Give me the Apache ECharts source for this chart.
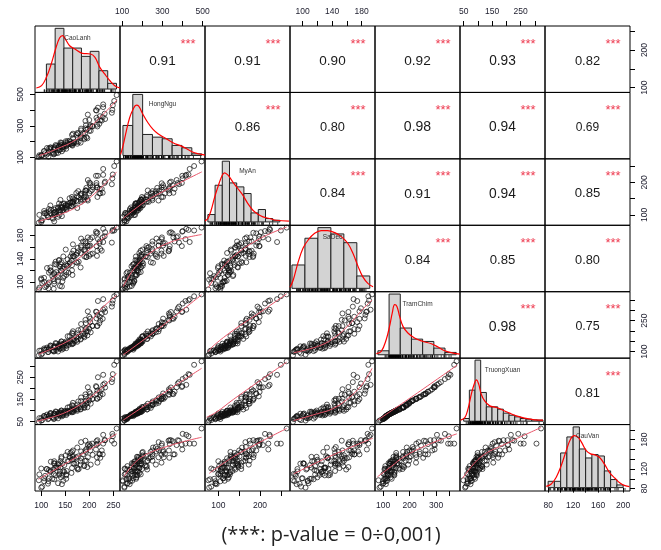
<!DOCTYPE html>
<html>
<head>
<meta charset="utf-8">
<script src="https://cdn.jsdelivr.net/npm/echarts@6/dist/echarts.min.js"></script>
<style>
html, body { margin: 0; padding: 0; background: #fff; }
#chart { width: 661px; height: 550px; }
</style>
</head>
<body>
<div id="chart"></div>
<script>
const caoLanh = [95,100,115,102,126,100,114,96,127,111, 135,108,125,106,131,143,116,123,139,106, 127,138,116,135,112,146,127,144,119,135, 152,127,119,144,141,128,152,137,120,153, 148,137,164,131,146,157,130,165,140,155, 148,167,142,163,140,175,160,152,173,142, 169,164,151,182,161,178,167,190,159,176, 155,182,189,166,173,196,164,183,194,175, 191,166,203,187,200,177,197,194,183,217, 192,207,183,216,193,206,223,202,192,221, 202,217,228,200,215,226,197,222,233,215, 232,214,247,229,218,248,229,249,252,257];
const hongNgu = [103,112,104,112,118,113,124,113,122,116, 128,126,126,138,127,138,139,132,148,140, 149,147,156,145,159,151,155,164,152,161, 154,165,163,161,171,159,170,167,161,176, 167,174,178,172,169,183,178,174,182,189, 179,188,179,187,194,186,183,193,197,192, 196,187,202,193,200,199,193,215,205,225, 203,224,223,219,243,221,242,233,228,254, 251,250,268,251,268,252,281,275,271,296, 284,296,282,307,304,298,335,297,331,313, 304,336,355,337,351,333,371,361,343,397, 377,399,383,419,415,401,436,430,458,495];
const myAn = [76,78,93,83,105,83,93,100,80,106, 94,105,88,112,102,96,118,90,109,105, 116,100,111,123,99,115,107,123,105,120, 116,100,129,114,125,108,123,135,115,119, 135,114,126,110,134,126,121,136,115,134, 120,141,131,127,146,121,137,128,144,121, 147,139,130,147,139,155,131,147,151,141, 129,160,155,140,167,148,155,140,175,157, 165,150,173,145,166,173,144,183,164,155, 174,185,165,184,155,177,166,197,175,166, 191,184,168,199,191,180,207,180,202,198, 198,220,194,223,220,212,241,224,250,264];
const saDec = [87,104,89,98,88,106,96,90,115,93, 108,91,105,100,117,92,116,110,93,107, 101,127,99,112,124,107,97,123,119,102, 130,113,125,101,120,131,112,138,120,128, 110,137,120,130,144,116,135,112,131,139, 126,145,119,137,126,150,134,117,147,134, 144,129,156,125,144,135,154,144,132,159, 128,150,155,144,134,162,149,160,143,133, 156,165,148,170,145,153,163,143,175,154, 170,149,163,145,167,177,157,174,153,167, 163,185,177,162,184,154,177,170,186,162, 179,187,168,192,174,188,169,190,189,194];
const tramChim = [82,86,99,91,101,106,98,105,103,111, 101,110,105,116,108,110,116,107,115,110, 120,115,110,121,120,115,126,119,122,127, 117,127,130,124,128,123,132,136,129,128, 140,128,136,139,134,133,142,139,133,146, 142,140,150,143,140,148,150,141,154,149, 151,160,149,159,149,173,159,170,175,162, 175,162,176,187,174,179,190,177,198,189, 185,199,194,187,211,204,198,214,208,224, 209,224,234,225,238,225,251,243,254,238, 260,278,259,269,261,285,295,269,292,292, 310,294,318,303,345,333,354,348,368,377];
const truongXuan = [49,55,64,57,62,66,61,66,64,71, 65,71,68,76,71,74,78,71,77,75, 82,78,75,83,82,79,86,81,84,87, 80,87,89,84,87,83,90,92,88,86, 95,86,92,94,90,90,96,95,89,98, 96,94,100,96,93,99,101,94,104,100, 103,108,99,107,99,116,105,112,116,105, 114,105,115,122,112,115,124,115,131,127, 124,135,131,127,146,141,135,146,143,154, 142,153,159,153,162,152,171,164,173,160, 177,190,174,184,176,196,205,185,204,206, 222,210,228,216,250,242,261,264,306,322];
const cauVan = [97,82,95,84,110,121,90,109,99,120, 91,106,119,101,126,89,118,100,115,95, 132,110,101,123,120,96,131,108,116,131, 107,136,114,131,103,122,100,129,135,116, 128,108,139,123,116,136,107,145,123,136, 114,131,145,112,136,122,143,109,132,142, 131,122,148,129,153,120,141,127,146,119, 155,136,126,147,144,124,155,142,137,164, 137,158,129,150,165,146,144,161,156,133, 158,149,175,144,155,172,143,168,178,151, 158,179,150,171,177,158,169,150,179,170, 179,160,178,190,172,192,172,187,172,203];

const names = ['CaoLanh', 'HongNgu', 'MyAn', 'SaDec', 'TramChim', 'TruongXuan', 'CauVan'];
const cols = [caoLanh, hongNgu, myAn, saDec, tramChim, truongXuan, cauVan];

// scatter axis limits per variable
const axisMin = [87, 90, 68, 83, 69, 37, 75];
const axisMax = [264, 512, 272, 198, 390, 336, 211];

// ticks per variable
const tickCaoLanh = [100, 150, 200, 250];
const tickHongNgu = [100, 200, 300, 400, 500];
const tickMyAn = [100, 150, 200, 250];
const tickSaDec = [100, 120, 140, 160, 180];
const tickTramChim = [100, 150, 200, 250, 300, 350];
const tickTruongXuan = [50, 100, 150, 200, 250, 300];
const tickCauVan = [80, 100, 120, 140, 160, 180, 200];
const ticks = [tickCaoLanh, tickHongNgu, tickMyAn, tickSaDec, tickTramChim, tickTruongXuan, tickCauVan];

// which tick labels are printed on each outer side
const labelsBottom = [[100, 150, 200, 250], null, [100, 200], null, [100, 200, 300], null, [80, 120, 160, 200]];
const labelsTop = [null, [100, 300, 500], null, [100, 140, 180], null, [50, 150, 250], null];
const labelsLeft = [null, [100, 300, 500], null, [100, 140, 180], null, [50, 150, 250], null];
const labelsRight = [[100, 200], null, [100, 200], null, [100, 250], null, [80, 120, 180]];

// histograms: bin edges and bar heights
const eCaoLanh = [100, 120, 140, 160, 180, 200, 220, 240, 260];
const hCaoLanh = [21.4, 52, 35.1, 35.1, 28, 32.3, 15.7, 4.9];
const eHongNgu = [100, 150, 200, 250, 300, 350, 400, 450, 500];
const hHongNgu = [25.7, 52.3, 18, 15.7, 14.3, 8.6, 6.6, 1.4];
const eMyAn = [70, 90, 110, 130, 150, 170, 190, 210, 230, 250, 270];
const hMyAn = [6.3, 31.4, 52, 33.4, 30, 24.3, 7.7, 10.6, 2.9, 1.4];
const eSaDec = [80, 100, 120, 140, 160, 180, 200];
const hSaDec = [20, 42.9, 52, 46.6, 39.1, 10.6];
const eTramChim = [50, 100, 150, 200, 250, 300, 350, 400];
const hTramChim = [3.4, 52, 22.9, 13.4, 11.4, 5.7, 2];
const eTruongXuan = [40, 60, 80, 100, 120, 140, 160, 180, 200, 220, 240, 260, 280, 300, 320];
const hTruongXuan = [2.3, 26.6, 52.3, 24.6, 12.3, 12.3, 10.3, 6.9, 5.1, 3.7, 2.3, 1.7, 1.1, 0.9];
const eCauVan = [80, 90, 100, 110, 120, 130, 140, 150, 160, 170, 180, 190, 200];
const hCauVan = [5.4, 5.4, 29.7, 43.4, 52, 33.1, 25.4, 28.3, 27.1, 14.3, 6.9, 2.3];
const edges = [eCaoLanh, eHongNgu, eMyAn, eSaDec, eTramChim, eTruongXuan, eCauVan];
const heights = [hCaoLanh, hHongNgu, hMyAn, hSaDec, hTramChim, hTruongXuan, hCauVan];
// x limits of the histogram panels
const diagMin = [74, 85, 62, 77, 37, 27, 75];
const diagMax = [268, 517, 298, 208, 417, 327, 211];

// density curves
const dCaoLanh = [[77,0.9],[89,2.9],[100,10],[111,21.4],[121,34.3],[130,43.7],[137,45.7],[143,42.9],[153,37.1],[165,34.3],[182,30.6],[201,30],[211,27.1],[222,18.6],[233,12.9],[245,7.1],[256,2.9],[268,0.9]];
const dHongNgu = [[88,0.9],[100,8],[117,20.9],[134,32.3],[151,39.4],[168,43.1],[180,42.3],[202,35.1],[227,28],[253,22.3],[278,18.6],[312,15.1],[354,10.9],[397,8],[430,5.1],[464,2.3],[498,0.9],[517,0.3]];
const dMyAn = [[62,0.9],[70,2.9],[79,10],[89,21.4],[101,32.9],[110,40],[116,42],[126,40],[139,34.3],[153,28.6],[167,22.9],[181,15.7],[195,10],[209,6.6],[223,4.3],[241,2.9],[260,1.4],[295,0.6]];
const dSaDec = [[77,0.9],[82,7.1],[89,21.4],[97,34.3],[105,41.4],[115,47.1],[125,49.4],[135,49.4],[146,47.7],[156,44.3],[166,38.6],[174,30],[182,18.6],[189,10],[197,4.3],[205,1.4]];
const dTramChim = [[43,0.9],[65,2.9],[87,12.9],[102,24.3],[114,35.7],[125,42.9],[135,41.4],[147,32.9],[162,24.3],[184,18.6],[214,14.3],[252,11.4],[289,9.4],[319,6.6],[349,3.4],[386,1.4],[416,0.6]];
const dTruongXuan = [[29,0.9],[44,3.1],[55,10.3],[67,23.1],[77,31.7],[85,35.4],[93,31.7],[102,23.1],[114,17.4],[132,13.1],[155,11.7],[179,9.4],[202,6.9],[226,4.6],[255,2.6],[285,1.4],[320,0.9]];
const dCauVan = [[77,1.1],[85,3.1],[93,8.9],[101,18.9],[109,31.7],[116,41.7],[122,44.6],[128,43.1],[134,38.3],[141,31.7],[148,28.9],[155,28],[162,26],[170,20.3],[178,13.1],[187,8],[195,4],[203,1.7],[210,0.9]];
const dens = [dCaoLanh, dHongNgu, dMyAn, dSaDec, dTramChim, dTruongXuan, dCauVan];

// smoothed fits in the lower panels, one list per row (columns left to right)
const fitRow2 = [[[96,110],[130,150],[174,215],[215,330],[258,465]]];
const fitRow3 = [[[94,80],[153,109],[195,145],[257,232]], [[106,89],[156,114],[239,150],[496,232]]];
const fitRow4 = [[[92,86],[174,138],[258,196]], [[106,92],[156,121],[239,150],[350,170],[495,182]], [[76,90],[96,112],[136,144],[200,175],[264,195]]];
const fitRow5 = [[[95,88],[153,148],[188,204],[222,300],[257,373]], [[106,85],[200,152],[300,225],[495,375]], [[75,100],[90,132],[136,204],[200,290],[264,380]], [[88,95],[120,125],[140,160],[160,220],[180,300],[194,350]]];
const fitRow6 = [[[91,52],[153,94],[208,169],[257,267]], [[106,57],[300,175],[495,290]], [[72,70],[96,94],[136,150],[200,235],[264,318]], [[88,55],[120,86],[140,107],[160,150],[180,215],[194,290]], [[80,58],[230,180],[380,305]]];
const fitRow7 = [[[94,99],[175,145],[257,192]], [[110,105],[189,142],[322,166],[495,185]], [[78,111],[136,145],[200,175],[264,203]], [[88,110],[140,148],[195,183]], [[78,104],[130,125],[178,145],[270,170],[378,192]], [[46,101],[111,145],[200,172],[322,205]]];
const fits = [null, fitRow2, fitRow3, fitRow4, fitRow5, fitRow6, fitRow7];

// correlations in the upper panels
const corRow1 = [0.91, 0.91, 0.90, 0.92, 0.93, 0.82];
const corRow2 = [0.86, 0.80, 0.98, 0.94, 0.69];
const corRow3 = [0.84, 0.91, 0.94, 0.85];
const corRow4 = [0.84, 0.85, 0.80];
const corRow5 = [0.98, 0.75];
const corRow6 = [0.81];
const cors = [corRow1, corRow2, corRow3, corRow4, corRow5, corRow6];

const L = 35, T = 26, W = 85, H = 465 / 7;
const FONT = 'Liberation Sans, Arial, sans-serif';

const grid = [], xAxis = [], yAxis = [], series = [], graphic = [];

// axis with outer ticks / labels
const outerAxis = (base, position, tickVals, labelVals, vertical) => Object.assign(base, {
    show: true,
    position,
    axisLine: { show: false },
    axisTick: { show: true, length: 5, customValues: tickVals, lineStyle: { color: '#000', width: 1 } },
    axisLabel: {
        show: true, customValues: labelVals, fontSize: 8.5, color: '#1c1c2c',
        fontFamily: FONT, margin: 10, rotate: vertical ? 90 : 0
    },
    splitLine: { show: false }
});

for (let r = 0; r < 7; r++) {
    for (let c = 0; c < 7; c++) {
        const k = r * 7 + c;
        grid.push({
            left: L + c * W, top: T + r * H, width: W, height: H,
            show: true, borderColor: '#000', borderWidth: 1, outerBoundsMode: 'none'
        });
        const xb = { type: 'value', gridIndex: k, min: axisMin[c], max: axisMax[c] };
        if (r === 0 && labelsTop[c]) xAxis.push(outerAxis(xb, 'top', ticks[c], labelsTop[c], false));
        else if (r === 6 && labelsBottom[c]) xAxis.push(outerAxis(xb, 'bottom', ticks[c], labelsBottom[c], false));
        else xAxis.push(Object.assign(xb, { show: false }));
        const yb = { type: 'value', gridIndex: k, min: axisMin[r], max: axisMax[r] };
        if (c === 0 && labelsLeft[r]) yAxis.push(outerAxis(yb, 'left', ticks[r], labelsLeft[r], true));
        else if (c === 6 && labelsRight[r]) yAxis.push(outerAxis(yb, 'right', ticks[r], labelsRight[r], true));
        else yAxis.push(Object.assign(yb, { show: false }));

        if (r > c) {
            // lower panel: scatter + smooth
            series.push({
                type: 'scatter', xAxisIndex: k, yAxisIndex: k, silent: true,
                symbol: 'circle', symbolSize: 5,
                itemStyle: { color: 'rgba(0,0,0,0)', borderColor: '#111', borderWidth: 0.9 },
                data: cols[c].map((v, i) => [v, cols[r][i]])
            });
            series.push({
                type: 'line', xAxisIndex: k, yAxisIndex: k, silent: true,
                smooth: 0.4, showSymbol: false,
                lineStyle: { color: '#e8566a', width: 1 },
                data: fits[r][c], z: 3
            });
        } else if (r < c) {
            // upper panel: correlation + stars
            const v = cors[r][c - r - 1];
            graphic.push({
                type: 'text', x: L + c * W + W / 2, y: T + r * H + 35, silent: true,
                style: { text: v.toFixed(2), fontSize: 7.2 + 7 * v, fontFamily: FONT, fill: '#1a1a1a', align: 'center', verticalAlign: 'middle' }
            });
            graphic.push({
                type: 'text', x: L + c * W + 68, y: T + r * H + 18, silent: true,
                style: { text: '***', fontSize: 13, fontFamily: FONT, fill: '#ee3b50', align: 'center', verticalAlign: 'middle' }
            });
        }
    }
}

// histogram panels on the diagonal
for (let i = 0; i < 7; i++) {
    const k = i * 8;
    const ax = xAxis.length;
    xAxis.push({ type: 'value', gridIndex: k, min: diagMin[i], max: diagMax[i], show: false });
    yAxis.push({ type: 'value', gridIndex: k, min: -2.9, max: 54, show: false });
    const e = edges[i];
    series.push({
        type: 'custom', xAxisIndex: ax, yAxisIndex: ax, silent: true,
        encode: { x: [0, 1], y: 2 },
        data: heights[i].map((h, j) => [e[j], e[j + 1], h]),
        renderItem: (params, api) => {
            const p0 = api.coord([api.value(0), 0]);
            const p1 = api.coord([api.value(1), api.value(2)]);
            return {
                type: 'rect',
                shape: { x: p0[0], y: p1[1], width: p1[0] - p0[0], height: p0[1] - p1[1] },
                style: { fill: '#d3d3d3', stroke: '#222', lineWidth: 1 }
            };
        }
    });
    series.push({
        type: 'line', xAxisIndex: ax, yAxisIndex: ax, silent: true,
        smooth: 0.4, showSymbol: false,
        lineStyle: { color: '#ff0000', width: 1.2 },
        data: dens[i], z: 3
    });
    // rug
    series.push({
        type: 'custom', xAxisIndex: ax, yAxisIndex: ax, silent: true,
        encode: { x: 0 },
        data: cols[i].map(v => [v]),
        renderItem: (params, api) => {
            const p = api.coord([api.value(0), -2.9]);
            return {
                type: 'line',
                shape: { x1: p[0], y1: p[1] - 0.5, x2: p[0], y2: p[1] - 3 },
                style: { stroke: '#000', lineWidth: 0.8 }
            };
        },
        z: 4
    });
    graphic.push({
        type: 'text', x: L + i * W + W / 2, y: T + i * H + 12, silent: true, z: 10,
        style: { text: names[i], fontSize: 6.5, fontFamily: FONT, fill: '#333', align: 'center', verticalAlign: 'middle' }
    });
}

graphic.push({
    type: 'text', x: 331, y: 535, silent: true,
    style: { text: '(***: p-value = 0÷0,001)', fontSize: 20, fontFamily: 'Open Sans, sans-serif', fill: '#222', align: 'center', verticalAlign: 'middle' }
});

const chart = echarts.init(document.getElementById('chart'));
chart.setOption({
    animation: false,
    backgroundColor: '#fff',
    grid, xAxis, yAxis, series, graphic
});
</script>
</body>
</html>
